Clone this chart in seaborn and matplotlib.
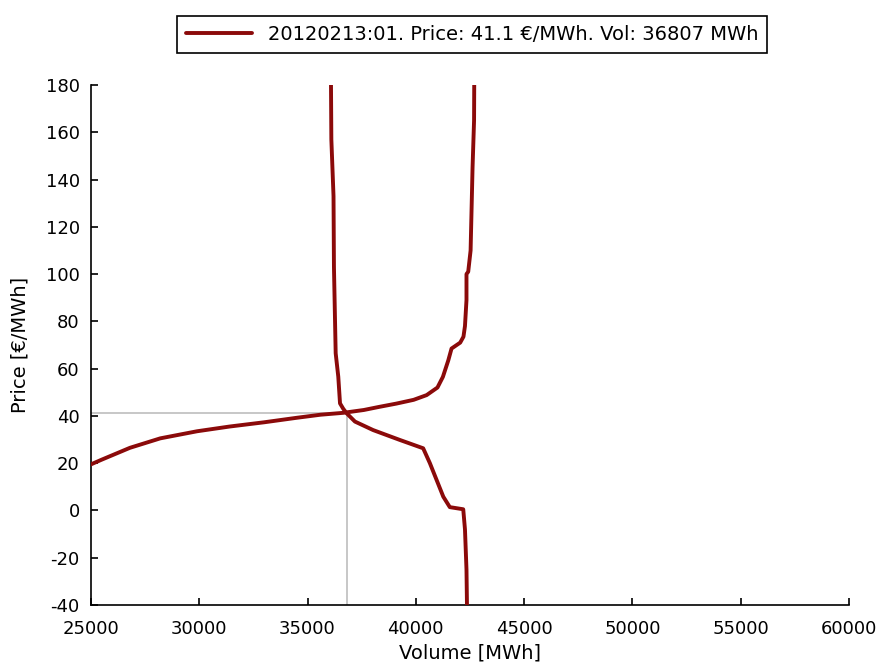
import matplotlib
matplotlib.use("Agg")
import matplotlib.pyplot as plt
import pandas as pd
import seaborn as sns

# supply / demand curves
supply_vol = [24500, 25000, 25500, 26800, 28200, 29900, 31400, 33000, 34500,
              35600, 36650, 37600, 38300, 39100, 39900, 40500, 41000, 41250,
              41500, 41650, 42050, 42200, 42270, 42340, 42340, 42420, 42530,
              42620, 42690, 42700]
supply_price = [18, 19.5, 21.5, 26.5, 30.5, 33.5, 35.5, 37.3, 39.2,
                40.5, 41.3, 42.5, 43.8, 45.2, 46.8, 48.8, 52, 56.5,
                63.5, 68.5, 71, 73.5, 78, 89, 100, 101, 110,
                145, 165, 185]

demand_vol = [36080, 36100, 36200, 36220, 36300, 36420, 36500, 36650, 36807,
              37190, 38030, 39270, 40340, 40650, 40960, 41270, 41570, 42190,
              42270, 42340, 42370]
demand_price = [185, 157, 133, 103, 66.5, 56.6, 45.3, 43, 41.1,
                37.6, 34, 29.8, 26.3, 20, 12.9, 5.8, 1.4, 0.5,
                -8, -25, -45]

eq_vol = 36807
eq_price = 41.1
label = "20120213:01. Price: 41.1 €/MWh. Vol: 36807 MWh"

x_ticks = list(range(25000, 60001, 5000))
y_ticks = list(range(-40, 181, 20))

sns.set_style("ticks")
plt.rcParams["font.family"] = ["DejaVu Sans"]
plt.rcParams["axes.unicode_minus"] = False
plt.rcParams["text.color"] = "black"
plt.rcParams["axes.labelcolor"] = "black"

supply = pd.DataFrame({"vol": supply_vol, "price": supply_price})
demand = pd.DataFrame({"vol": demand_vol, "price": demand_price})

fig = plt.figure(figsize=(8.78, 6.66), dpi=100)
ax = fig.add_axes([0.1036, 0.0916, 0.8633, 0.7808])

# equilibrium guide lines
ax.plot([x_ticks[0], eq_vol], [eq_price, eq_price], color="#bdbdbd", lw=1.2, zorder=1)
ax.plot([eq_vol, eq_vol], [y_ticks[0], eq_price], color="#bdbdbd", lw=1.2, zorder=1)

sns.lineplot(data=supply, x="vol", y="price", sort=False, estimator=None,
             color="#8b0a0a", lw=2.8, ax=ax, label=label, zorder=3)
sns.lineplot(data=demand, x="vol", y="price", sort=False, estimator=None,
             color="#8b0a0a", lw=2.8, ax=ax, zorder=3)

ax.set_xlim(x_ticks[0], x_ticks[-1])
ax.set_ylim(y_ticks[0], y_ticks[-1])
ax.set_xticks(x_ticks)
ax.set_yticks(y_ticks)
ax.tick_params(direction="in", length=5, width=1.2, labelsize=13, colors="black")
ax.tick_params(axis="x", pad=11)
ax.tick_params(axis="y", pad=8)
for side in ["top", "right"]:
    ax.spines[side].set_visible(False)
for side in ["left", "bottom"]:
    ax.spines[side].set_linewidth(1.2)
    ax.spines[side].set_color("black")

ax.set_xlabel("Volume [MWh]", fontsize=14, labelpad=4)
ax.set_ylabel("Price [€/MWh]", fontsize=14, labelpad=12)

leg = ax.legend(loc="lower center", bbox_to_anchor=(0.503, 1.062), borderaxespad=0,
                fontsize=14, fancybox=False, framealpha=1, edgecolor="black",
                handlelength=3.4, borderpad=0.45)
leg.get_frame().set_linewidth(1.2)
for t in leg.get_texts():
    t.set_color("black")

fig.savefig("out.png", dpi=100)
